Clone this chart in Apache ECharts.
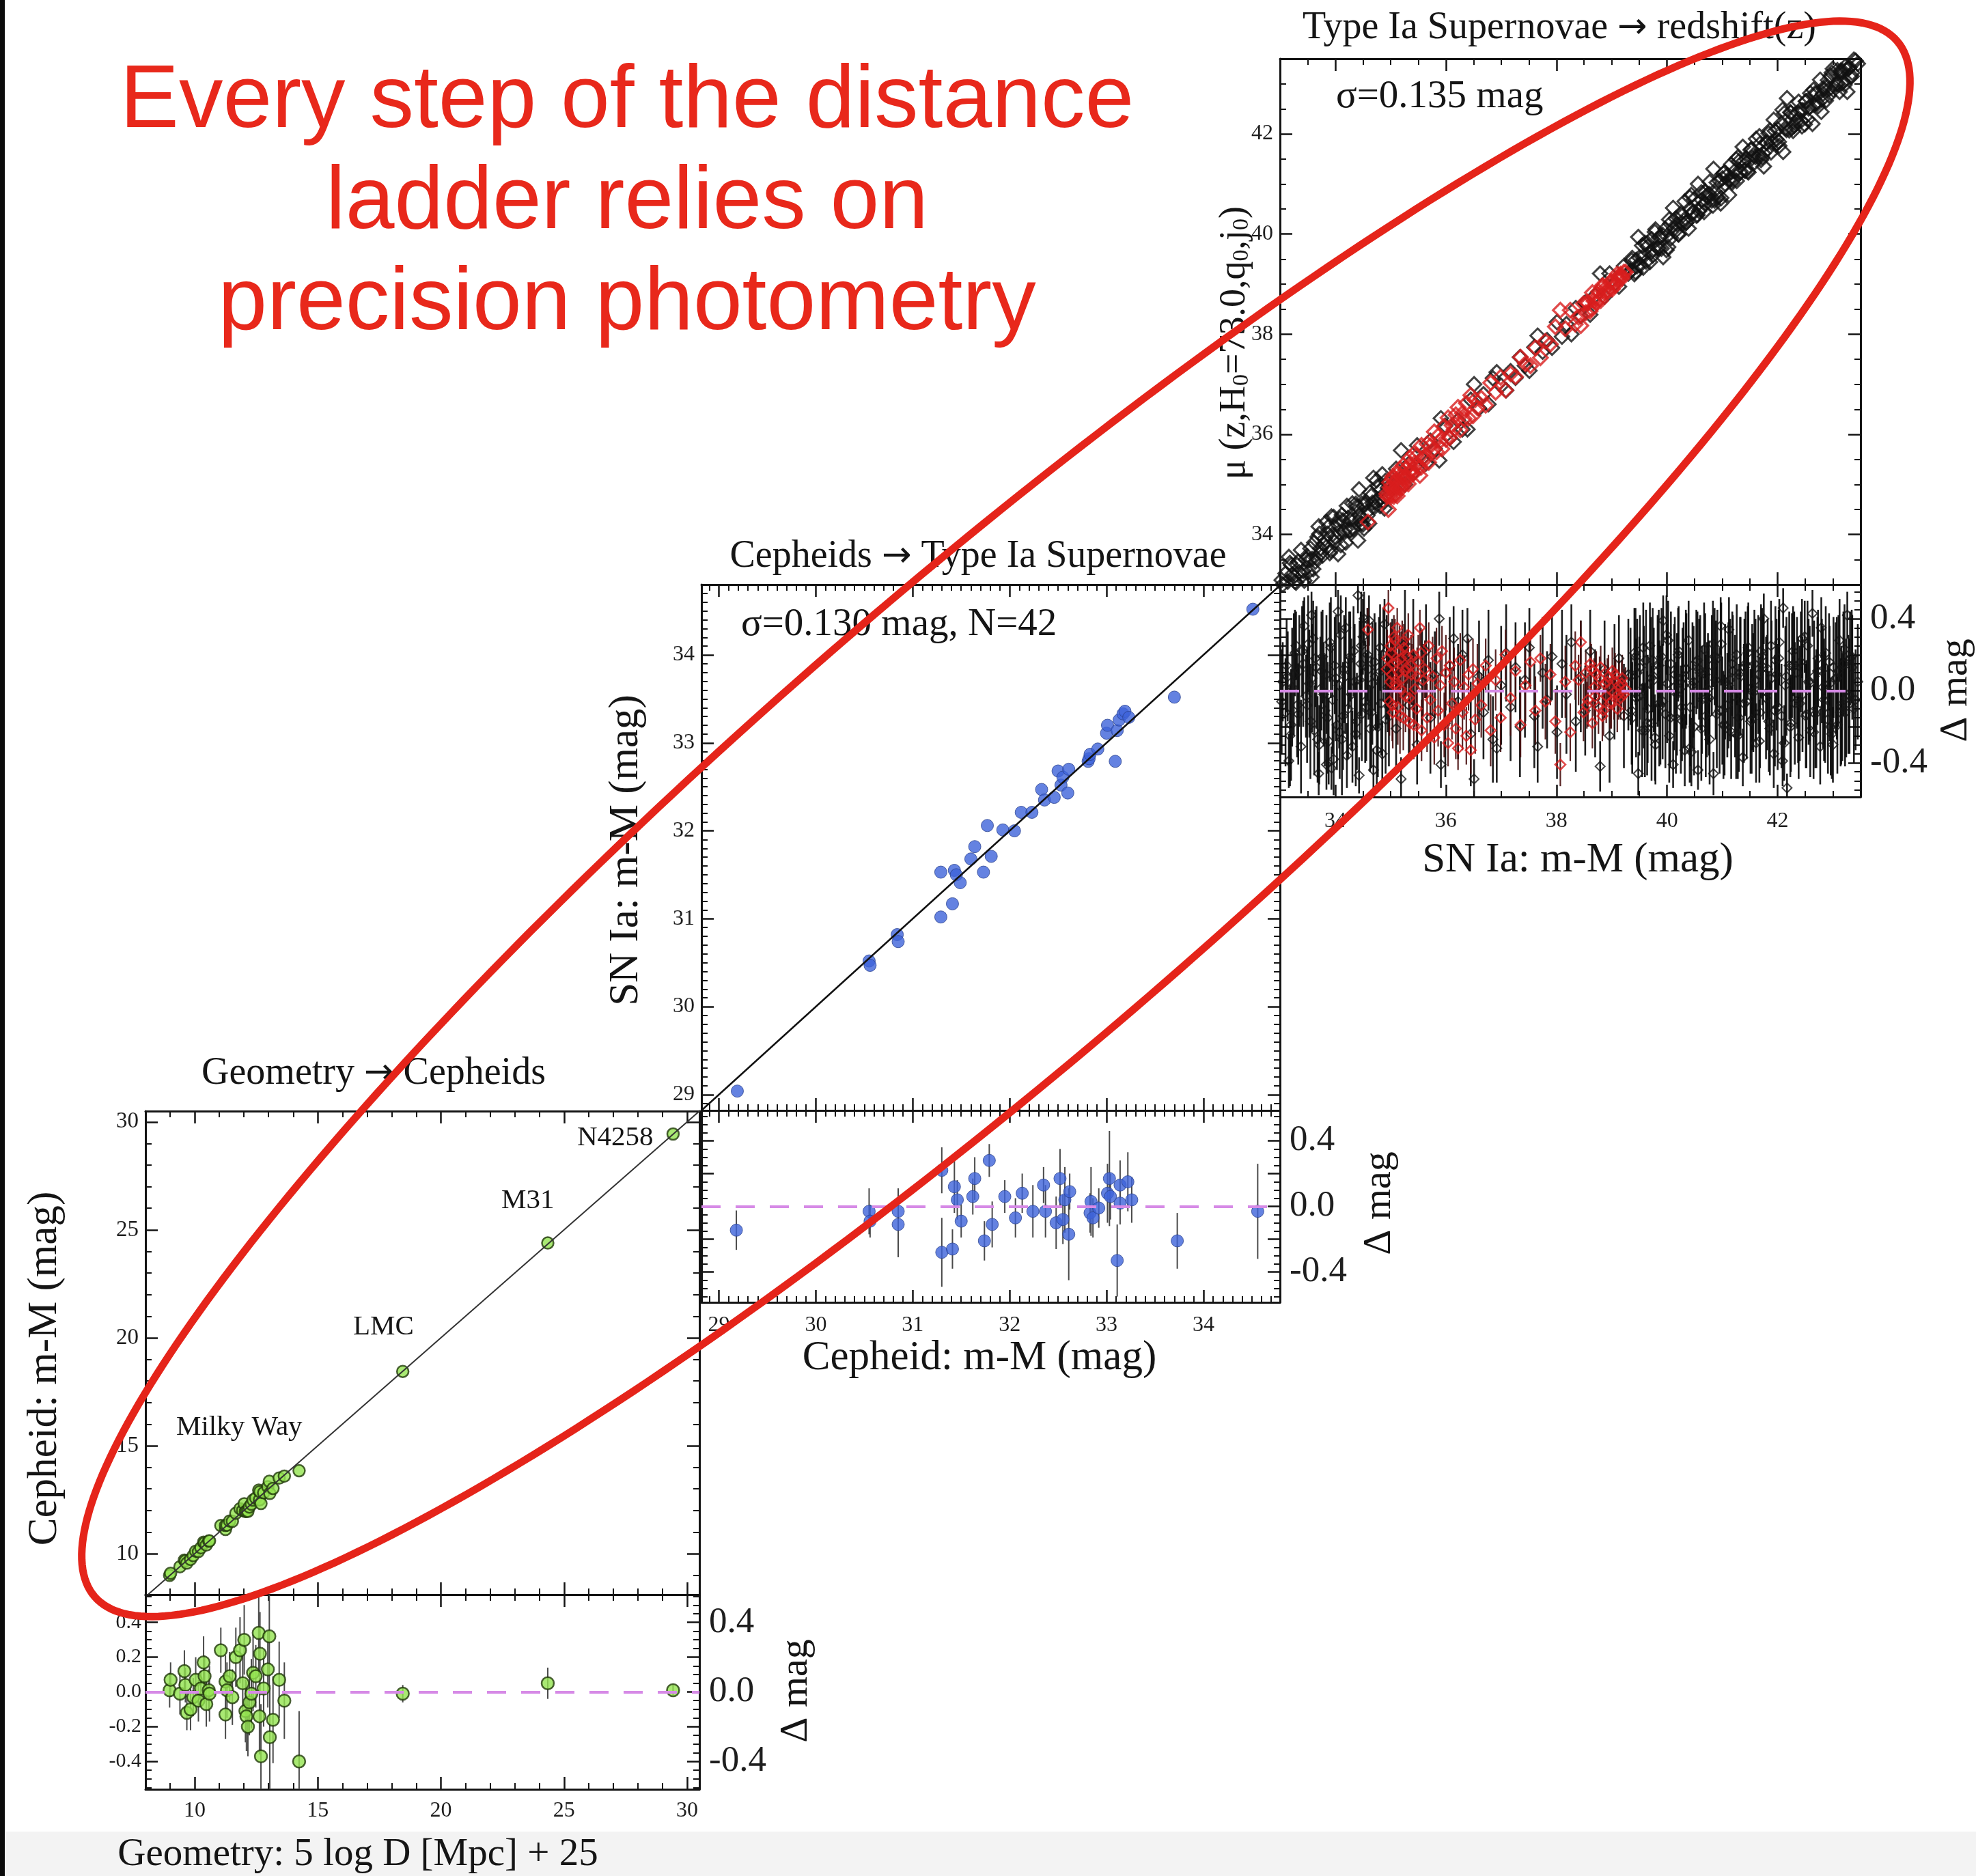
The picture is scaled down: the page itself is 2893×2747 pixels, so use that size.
<!DOCTYPE html>
<html><head><meta charset="utf-8">
<script src="https://cdn.jsdelivr.net/npm/echarts@6/dist/echarts.min.js"></script>
<style>html,body{margin:0;padding:0;background:#fff}#c{width:2893px;height:2747px}</style>
</head><body><div id="c"></div>
<script>
// ================= DATA =================
// Panel 1: Geometry -> Cepheids  main: [geometry 5logD+25, cepheid m-M]
const cephMain = [[8.98,8.99],[9.02,9.09],[9.40,9.39],[9.58,9.70],[9.62,9.66],[9.68,9.56],[9.83,9.73],[9.94,9.91],[10.04,10.11],[10.15,10.10],[10.25,10.27],[10.36,10.53],[10.40,10.49],[10.47,10.40],[10.57,10.58],[10.60,10.59],[11.06,11.30],[11.25,11.12],[11.25,11.31],[11.31,11.32],[11.42,11.51],[11.53,11.50],[11.67,11.87],[11.84,12.08],[11.95,12.00],[12.01,12.31],[12.06,11.95],[12.10,11.96],[12.16,11.96],[12.22,12.16],[12.30,12.29],[12.37,12.48],[12.48,12.57],[12.60,12.94],[12.63,12.49],[12.65,12.87],[12.69,12.32],[12.80,12.82],[12.97,13.10],[13.03,13.35],[13.05,12.79],[13.18,13.02],[13.43,13.50],[13.64,13.59],[14.24,13.84],[18.45,18.44],[24.34,24.39],[29.43,29.44]];
// residual: [geometry, delta mag, error]
const cephRes = [[8.98,0.01,0.10],[9.02,0.07,0.10],[9.40,-0.01,0.12],[9.58,0.12,0.12],[9.62,0.04,0.10],[9.68,-0.12,0.10],[9.83,-0.10,0.12],[9.94,-0.03,0.11],[10.04,0.07,0.13],[10.15,-0.05,0.12],[10.25,0.02,0.10],[10.36,0.17,0.15],[10.40,0.09,0.12],[10.47,-0.07,0.13],[10.57,0.01,0.12],[10.60,-0.01,0.16],[11.06,0.24,0.13],[11.25,-0.13,0.14],[11.25,0.06,0.15],[11.31,0.01,0.16],[11.42,0.09,0.14],[11.53,-0.03,0.16],[11.67,0.20,0.17],[11.84,0.24,0.19],[11.95,0.05,0.17],[12.01,0.30,0.20],[12.06,-0.11,0.18],[12.10,-0.14,0.20],[12.16,-0.20,0.17],[12.22,-0.06,0.19],[12.30,-0.01,0.20],[12.37,0.11,0.22],[12.48,0.09,0.18],[12.60,0.34,0.25],[12.63,-0.14,0.22],[12.65,0.22,0.24],[12.69,-0.37,0.30],[12.80,0.02,0.22],[12.97,0.13,0.22],[13.03,0.32,0.30],[13.05,-0.26,0.30],[13.18,-0.16,0.25],[13.43,0.07,0.22],[13.64,-0.05,0.22],[14.24,-0.40,0.29],[18.45,-0.01,0.05],[24.34,0.05,0.09],[29.43,0.01,0.03]];
const cephFit = [[8,8],[30.5,30.5]];
const cephTicks = [10,15,20,25,30];

// Panel 2: Cepheids -> SN Ia  main: [cepheid m-M, SN Ia m-M]
const snCephMain = [[29.19,29.04],[30.55,30.52],[30.56,30.47],[30.84,30.82],[30.85,30.74],[31.29,31.02],[31.29,31.53],[31.41,31.17],[31.43,31.55],[31.45,31.50],[31.49,31.41],[31.60,31.68],[31.64,31.82],[31.73,31.53],[31.77,32.06],[31.81,31.71],[31.93,32.01],[32.05,32.00],[32.12,32.21],[32.23,32.21],[32.33,32.47],[32.36,32.35],[32.46,32.38],[32.50,32.68],[32.53,32.52],[32.55,32.61],[32.60,32.43],[32.61,32.70],[32.81,32.79],[32.82,32.82],[32.83,32.87],[32.91,32.93],[33.00,33.11],[33.01,33.20],[33.09,32.79],[33.11,33.14],[33.13,33.26],[33.17,33.33],[33.19,33.36],[33.23,33.29],[33.70,33.52],[34.51,34.52]];
const snCephRes = [[29.18,-0.145,0.12],[30.55,-0.03,0.14],[30.56,-0.09,0.10],[30.85,-0.03,0.14],[30.85,-0.11,0.20],[31.30,0.22,0.14],[31.30,-0.28,0.21],[31.41,-0.26,0.12],[31.43,0.12,0.16],[31.46,0.04,0.12],[31.50,-0.09,0.10],[31.62,0.06,0.11],[31.64,0.17,0.13],[31.74,-0.21,0.12],[31.79,0.28,0.10],[31.82,-0.11,0.14],[31.95,0.06,0.10],[32.06,-0.07,0.12],[32.13,0.08,0.12],[32.24,-0.03,0.16],[32.35,0.13,0.11],[32.37,-0.03,0.16],[32.48,-0.10,0.16],[32.52,0.17,0.18],[32.55,-0.08,0.15],[32.57,0.04,0.20],[32.61,-0.17,0.28],[32.62,0.09,0.11],[32.83,-0.04,0.12],[32.84,0.03,0.21],[32.86,-0.07,0.12],[32.92,-0.01,0.12],[33.01,0.08,0.18],[33.03,0.17,0.29],[33.04,0.06,0.14],[33.11,-0.33,0.22],[33.14,0.02,0.13],[33.14,0.13,0.15],[33.22,0.15,0.18],[33.26,0.04,0.14],[33.73,-0.21,0.17],[34.56,-0.03,0.29]];
const snCephFit = [[28.82,28.82],[34.79,34.79]];
const snCephTicks = [29,30,31,32,33,34];

// Panel 3: SN Ia -> redshift. x = SN Ia m-M, mu = mu(z), d = residual, e = error
const hfBlackX = [33.05,33.10,33.14,33.18,33.22,33.27,33.31,33.35,33.38,33.42,33.47,33.51,33.55,33.58,33.62,33.66,33.70,33.73,33.77,33.81,33.84,33.88,33.92,33.95,33.99,34.03,34.07,34.10,34.14,34.18,34.21,34.25,34.29,34.33,34.37,34.41,34.44,34.48,34.52,34.56,34.60,34.63,34.67,34.71,34.75,34.79,34.83,34.87,34.91,34.95,33.84,33.44,34.12,33.60,34.47,34.05,33.97,34.69,33.29,34.89,
35.03,35.10,35.19,35.26,35.33,35.41,35.48,35.57,35.64,35.72,35.80,35.88,35.91,35.99,36.07,36.14,36.22,36.30,36.39,36.45,36.51,36.60,36.68,36.77,36.85,36.92,37.00,37.09,37.17,37.26,37.34,37.43,37.51,37.60,37.66,37.75,37.83,37.92,38.01,38.10,38.18,38.27,38.35,38.44,38.52,38.61,38.70,38.79,38.87,38.96,39.05,39.13,39.22,39.30,
39.34,39.37,39.41,39.44,39.48,39.51,39.55,39.58,39.62,39.65,39.69,39.72,39.76,39.79,39.83,39.86,39.90,39.93,39.97,40.00,40.04,40.07,40.11,40.14,40.18,40.21,40.25,40.28,40.32,40.35,40.39,40.42,40.46,40.49,40.53,40.56,40.60,40.63,40.67,40.70,40.74,40.77,40.81,40.84,40.88,40.91,40.95,40.98,41.02,41.05,41.09,41.12,41.16,41.19,41.23,41.26,41.30,41.33,41.37,41.40,41.44,41.47,41.51,41.54,41.58,41.61,41.65,41.68,41.72,41.75,41.79,41.82,41.86,41.89,41.93,41.96,42.00,42.03,42.07,42.10,42.14,42.17,42.21,42.24,42.28,42.31,42.35,42.38,42.42,42.45,42.49,42.52,42.56,42.59,42.63,42.66,42.70,42.73,42.77,42.80,42.84,42.87,42.91,42.94,42.98,43.01,43.05,43.08,43.12,43.15,43.19,43.22,43.26,43.30,43.34,43.38,
33.03,33.12,33.20,33.25,33.33,33.40,33.49,33.53,33.64,33.68,33.75,33.79,33.86,33.90,34.01,34.08,34.16,34.23,34.27,34.31,34.35,34.39,34.46,34.50,34.54,34.58,34.65,34.73,34.77,34.81,34.85,34.93,34.97,33.16,33.57,33.93,34.19,34.61,34.43,33.71,
39.36,39.43,39.50,39.57,39.64,39.71,39.78,39.85,39.92,39.99,40.06,40.13,40.20,40.27,40.34,40.41,40.48,40.55,40.62,40.69,40.76,40.83,40.90,40.97,41.04,41.11,41.18,41.25,41.32,41.39,41.46,41.53,41.60,41.67,41.74,41.81,41.88,41.95,42.02,42.09,42.16,42.23,42.30,42.37,42.44,42.51,42.58,42.65,42.72,42.79,42.86,42.93,43.00,43.07,43.14,43.21,43.28,43.35,43.41,43.45,39.46,39.60,39.74,39.88,40.02,40.16,40.30,40.44,40.58,40.72,40.86,41.00,41.14,41.28,41.42,41.56,41.70,41.84,41.98,42.12,42.26,42.40,42.54,42.68,42.82,42.96,43.10,43.24,43.31,43.17];
const hfBlackMu = [33.00,33.22,33.06,33.43,33.20,33.06,33.39,33.24,33.69,33.27,33.50,33.25,33.72,33.51,33.84,33.53,34.16,33.72,33.58,33.92,33.75,34.16,33.68,34.00,33.85,34.22,34.04,33.79,34.28,34.10,34.57,34.08,34.31,34.11,34.61,33.88,34.38,34.61,34.12,34.65,34.48,34.84,34.63,34.55,35.08,34.69,34.90,34.67,35.07,34.93,34.25,33.08,34.39,33.31,34.22,33.61,34.35,35.13,33.04,34.52,
34.91,35.31,35.68,35.00,35.41,35.23,35.78,35.52,35.42,35.87,35.71,35.48,36.32,36.17,35.93,35.85,36.28,36.10,36.10,36.69,37.00,36.52,36.80,36.60,37.12,37.24,36.97,36.88,37.26,37.13,37.54,37.37,37.27,37.74,37.97,37.65,37.88,37.73,38.24,37.95,38.20,38.00,38.52,38.36,38.63,38.39,38.77,39.21,38.75,39.21,39.00,38.95,39.36,39.21,
39.26,39.52,39.20,39.48,39.94,39.38,39.77,39.56,39.45,39.75,39.44,39.90,39.70,40.09,39.72,39.93,39.71,39.54,40.10,39.96,40.29,39.92,40.52,40.05,40.20,39.99,40.41,40.21,40.65,40.23,40.11,40.51,40.43,40.69,40.37,41.00,40.50,40.68,40.44,40.84,40.73,41.04,40.67,41.30,40.82,40.73,41.06,40.72,41.21,41.00,41.17,40.78,41.39,41.08,41.26,41.06,41.45,41.25,41.74,41.27,41.50,41.23,41.68,41.52,41.43,41.90,41.56,41.80,41.53,41.35,41.83,41.70,42.07,41.82,42.28,41.79,42.09,41.76,42.21,41.64,42.11,42.71,42.07,42.42,42.06,42.38,42.25,42.64,42.26,42.47,42.19,42.65,42.51,42.81,42.20,42.58,42.80,42.55,43.08,42.69,42.89,42.66,43.07,42.90,43.22,42.88,42.98,43.27,42.84,43.23,43.04,43.34,42.84,43.33,43.15,43.48,
33.09,32.98,33.39,33.16,33.46,33.18,33.57,33.49,33.46,33.95,33.64,33.81,34.01,33.63,33.94,34.31,34.04,34.33,34.08,34.62,34.30,34.56,34.31,34.20,34.60,34.38,34.77,34.65,34.97,34.57,35.20,34.80,35.06,33.55,33.15,34.36,33.84,34.22,34.90,34.01,
39.47,39.24,39.53,39.33,39.82,39.64,40.04,39.71,39.98,39.68,40.21,40.11,40.00,40.36,40.22,40.73,40.43,40.38,40.83,40.60,40.80,40.57,41.03,40.61,41.23,41.08,41.03,41.49,41.22,41.46,41.25,41.69,41.54,41.95,41.61,41.82,41.63,42.06,41.84,42.48,42.08,42.43,42.16,42.42,42.15,42.65,42.54,42.88,42.61,42.44,42.95,42.77,43.30,43.00,43.26,42.98,43.30,43.22,43.46,43.40,39.36,39.82,39.57,39.96,39.74,40.31,40.27,40.78,40.46,40.77,40.67,41.11,41.08,41.53,41.27,41.57,41.48,42.01,41.89,42.41,42.12,42.47,42.29,42.81,42.80,43.16,42.99,43.28,43.13,43.26];
const hfBlackD = [0.05,-0.12,0.08,-0.25,0.02,0.21,-0.08,0.11,-0.31,0.15,-0.03,0.26,-0.17,0.07,-0.22,0.13,-0.46,0.01,0.19,-0.11,0.09,-0.28,0.24,-0.05,0.14,-0.19,0.03,0.31,-0.14,0.08,-0.36,0.17,-0.02,0.22,-0.24,0.53,0.06,-0.13,0.40,-0.09,0.12,-0.21,0.04,0.16,-0.33,0.10,-0.07,0.20,-0.16,0.02,-0.41,0.36,-0.27,0.29,0.25,0.44,-0.38,-0.44,0.25,0.37,
0.12,-0.21,-0.49,0.26,-0.08,0.18,-0.30,0.05,0.22,-0.15,0.09,0.40,-0.41,-0.18,0.14,0.29,-0.06,0.20,0.29,-0.24,-0.49,0.08,-0.12,0.17,-0.27,-0.32,0.03,0.21,-0.09,0.13,-0.20,0.06,0.24,-0.14,-0.31,0.10,-0.05,0.19,-0.23,0.15,-0.02,0.27,-0.17,0.08,-0.11,0.22,-0.07,-0.42,0.12,-0.25,0.05,0.18,-0.14,0.09,
0.08,-0.15,0.21,-0.04,-0.46,0.13,-0.22,0.02,0.17,-0.10,0.25,-0.18,0.06,-0.30,0.11,-0.07,0.19,0.39,-0.13,0.04,-0.25,0.15,-0.41,0.09,-0.02,0.22,-0.16,0.07,-0.33,0.12,0.28,-0.09,0.03,-0.20,0.16,-0.44,0.10,-0.05,0.23,-0.14,0.01,-0.27,0.14,-0.46,0.06,0.18,-0.11,0.26,-0.19,0.05,-0.08,0.34,-0.23,0.11,-0.03,0.20,-0.15,0.08,-0.37,0.13,-0.06,0.24,-0.17,0.02,0.15,-0.29,0.09,-0.12,0.19,0.40,-0.04,0.12,-0.21,0.07,-0.35,0.17,-0.09,0.27,-0.14,0.46,0.03,-0.54,0.14,-0.18,0.22,-0.07,0.10,-0.26,0.16,-0.02,0.30,-0.13,0.05,-0.22,0.43,0.08,-0.10,0.18,-0.31,0.11,-0.05,0.21,-0.16,0.04,-0.24,0.13,0.07,-0.19,0.28,-0.08,0.15,-0.12,0.42,-0.03,0.19,-0.10,
-0.06,0.14,-0.19,0.09,-0.13,0.22,-0.08,0.04,0.18,-0.27,0.11,-0.02,-0.15,0.27,0.07,-0.23,0.12,-0.10,0.19,-0.31,0.05,-0.17,0.15,0.30,-0.06,0.20,-0.12,0.08,-0.20,0.24,-0.35,0.13,-0.09,-0.39,0.42,-0.43,0.35,0.39,-0.47,-0.30,
-0.11,0.19,-0.03,0.24,-0.18,0.07,-0.26,0.14,-0.06,0.31,-0.15,0.02,0.20,-0.09,0.12,-0.32,0.05,0.17,-0.21,0.09,-0.04,0.26,-0.13,0.36,-0.19,0.03,0.15,-0.24,0.10,-0.07,0.21,-0.16,0.06,-0.28,0.13,-0.01,0.25,-0.11,0.18,-0.39,0.08,-0.20,0.14,-0.05,0.29,-0.14,0.04,-0.23,0.11,0.35,-0.09,0.16,-0.30,0.07,-0.12,0.23,-0.02,0.13,-0.05,0.05,0.10,-0.22,0.17,-0.08,0.28,-0.15,0.03,-0.34,0.12,-0.05,0.19,-0.11,0.06,-0.25,0.15,-0.01,0.22,-0.17,0.09,-0.29,0.14,-0.07,0.25,-0.13,0.02,-0.20,0.11,-0.04,0.18,-0.09];
const hfBlackE = [0.22,0.30,0.25,0.28,0.33,0.24,0.29,0.31,0.26,0.35,0.23,0.27,0.32,0.30,0.25,0.34,0.12,0.29,0.26,0.31,0.33,0.24,0.28,0.30,0.27,0.25,0.35,0.22,0.30,0.32,0.18,0.27,0.31,0.25,0.29,0.10,0.33,0.26,0.15,0.30,0.28,0.24,0.34,0.27,0.20,0.31,0.29,0.26,0.30,0.25,0.14,0.16,0.31,0.21,0.30,0.12,0.20,0.12,0.19,0.14,
0.28,0.25,0.12,0.30,0.27,0.33,0.22,0.29,0.26,0.31,0.24,0.15,0.13,0.30,0.27,0.18,0.32,0.25,0.17,0.29,0.11,0.31,0.26,0.28,0.24,0.19,0.33,0.27,0.30,0.25,0.28,0.32,0.22,0.29,0.20,0.31,0.27,0.24,0.26,0.30,0.33,0.21,0.28,0.31,0.25,0.23,0.30,0.14,0.27,0.26,0.32,0.24,0.29,0.31,
0.27,0.31,0.25,0.33,0.12,0.29,0.26,0.34,0.28,0.30,0.24,0.32,0.29,0.22,0.31,0.35,0.27,0.14,0.30,0.33,0.26,0.29,0.13,0.32,0.34,0.25,0.30,0.28,0.20,0.31,0.22,0.33,0.35,0.27,0.29,0.11,0.32,0.30,0.26,0.34,0.31,0.25,0.28,0.12,0.33,0.27,0.35,0.23,0.30,0.32,0.29,0.18,0.26,0.31,0.34,0.28,0.30,0.33,0.16,0.27,0.32,0.25,0.29,0.35,0.30,0.22,0.33,0.31,0.27,0.14,0.34,0.28,0.26,0.32,0.19,0.30,0.35,0.24,0.29,0.11,0.33,0.08,0.30,0.27,0.25,0.34,0.31,0.23,0.28,0.32,0.20,0.30,0.35,0.26,0.13,0.31,0.33,0.27,0.21,0.29,0.34,0.26,0.30,0.32,0.25,0.28,0.31,0.27,0.23,0.33,0.29,0.30,0.13,0.32,0.26,0.30,
0.29,0.26,0.31,0.34,0.28,0.25,0.32,0.30,0.27,0.24,0.33,0.29,0.31,0.22,0.35,0.26,0.30,0.28,0.25,0.20,0.32,0.27,0.29,0.21,0.34,0.26,0.31,0.30,0.28,0.24,0.18,0.29,0.33,0.15,0.13,0.12,0.17,0.14,0.10,0.22,
0.30,0.27,0.33,0.25,0.29,0.34,0.24,0.31,0.32,0.22,0.28,0.35,0.26,0.30,0.33,0.19,0.31,0.27,0.29,0.34,0.32,0.24,0.30,0.16,0.28,0.35,0.29,0.25,0.31,0.33,0.26,0.30,0.34,0.23,0.29,0.32,0.25,0.31,0.27,0.14,0.33,0.28,0.30,0.35,0.22,0.29,0.32,0.26,0.30,0.17,0.31,0.27,0.21,0.34,0.30,0.25,0.33,0.29,0.28,0.32,0.30,0.26,0.29,0.33,0.22,0.31,0.35,0.19,0.28,0.32,0.27,0.30,0.34,0.24,0.29,0.33,0.26,0.28,0.31,0.21,0.29,0.32,0.25,0.30,0.34,0.27,0.31,0.33,0.26,0.30];
const hfRedX = [34.59,34.93,34.96,34.99,35.01,35.03,35.05,35.08,35.10,35.12,35.15,35.17,35.19,35.22,35.24,35.27,35.29,35.32,35.35,35.38,35.41,35.44,35.47,35.50,35.53,35.56,35.59,35.62,35.66,35.69,35.72,35.76,35.79,35.83,35.86,35.90,35.93,35.97,36.00,36.04,36.07,36.11,36.15,36.18,36.22,36.26,36.30,36.33,36.37,36.41,36.45,36.49,36.53,36.57,
36.64,36.72,36.81,36.90,36.99,37.08,37.17,37.26,37.35,37.44,37.53,37.62,37.71,37.80,37.89,37.98,38.07,38.16,38.25,38.34,
38.40,38.44,38.49,38.53,38.57,38.61,38.65,38.68,38.72,38.76,38.80,38.83,38.87,38.90,38.94,38.97,39.01,39.04,39.07,39.10,39.13,39.16,39.19,39.22,39.25,
34.94,34.98,35.00,35.02,35.04,35.06,35.09,35.11,35.13,35.16,35.18,35.21,35.23,35.26,35.30,35.34,35.37,35.42,35.48,35.55,38.55,38.63,38.70,38.78,38.85,38.92,38.99,39.06,39.12,39.18];
const hfRedMu = [34.25,34.81,34.50,34.94,34.80,35.11,34.90,34.80,35.08,34.77,35.05,35.31,35.01,35.15,35.00,35.30,35.16,35.01,35.53,35.29,35.21,35.43,35.57,35.34,35.18,35.78,35.53,35.50,35.81,35.44,35.77,35.68,36.05,35.65,35.97,35.87,35.71,36.16,35.90,36.33,35.93,36.18,36.10,36.39,36.54,36.09,36.42,36.31,36.62,36.32,36.78,36.37,36.69,36.53,
36.72,36.58,37.03,36.84,37.14,36.88,37.21,37.15,37.54,37.41,37.37,37.73,37.53,37.86,37.80,38.15,38.48,38.11,38.48,38.20,
38.34,38.17,38.61,38.43,38.62,38.46,38.83,38.66,38.63,38.85,38.67,38.97,38.83,38.93,38.86,39.04,38.90,39.05,39.02,39.20,39.10,39.20,39.12,39.24,39.24,
34.76,35.04,34.75,34.93,35.16,34.76,35.05,34.95,35.22,34.94,35.17,34.94,35.38,35.15,35.11,35.38,35.23,35.61,35.40,35.34,38.63,38.51,38.73,38.71,38.96,38.87,39.05,38.97,39.14,39.14];
const hfRedD = [0.34,0.12,0.46,0.05,0.21,-0.08,0.15,0.28,0.02,0.35,0.10,-0.14,0.18,0.07,0.24,-0.03,0.13,0.31,-0.18,0.09,0.20,0.01,-0.10,0.16,0.35,-0.22,0.06,0.12,-0.15,0.25,-0.05,0.08,-0.26,0.18,-0.11,0.03,0.22,-0.19,0.10,-0.29,0.14,-0.07,0.05,-0.21,-0.32,0.17,-0.12,0.02,-0.25,0.09,-0.33,0.12,-0.16,0.04,
-0.08,0.14,-0.22,0.06,-0.15,0.20,-0.04,0.11,-0.19,0.03,0.16,-0.11,0.18,-0.06,0.09,-0.17,-0.41,0.05,-0.23,0.14,
0.06,0.27,-0.12,0.10,-0.05,0.15,-0.18,0.02,0.09,-0.09,0.13,-0.14,0.04,-0.03,0.08,-0.07,0.11,-0.01,0.05,-0.10,0.03,-0.04,0.07,-0.02,0.01,
0.18,-0.06,0.25,0.09,-0.12,0.30,0.04,0.16,-0.09,0.22,0.01,0.27,-0.15,0.11,0.19,-0.04,0.14,-0.19,0.08,0.21,-0.08,0.12,-0.03,0.07,-0.11,0.05,-0.06,0.09,-0.02,0.04];
const hfRedE = [0.12,0.15,0.10,0.18,0.14,0.20,0.16,0.12,0.19,0.11,0.17,0.21,0.15,0.18,0.13,0.20,0.16,0.12,0.19,0.17,0.14,0.21,0.18,0.15,0.10,0.17,0.20,0.16,0.19,0.13,0.18,0.22,0.15,0.17,0.20,0.19,0.14,0.18,0.21,0.13,0.16,0.20,0.19,0.17,0.12,0.15,0.21,0.18,0.16,0.20,0.13,0.17,0.19,0.22,
0.18,0.15,0.20,0.17,0.19,0.14,0.21,0.16,0.18,0.20,0.15,0.19,0.13,0.21,0.17,0.18,0.12,0.20,0.16,0.19,
0.14,0.12,0.16,0.13,0.15,0.12,0.14,0.16,0.13,0.15,0.12,0.14,0.13,0.15,0.12,0.14,0.13,0.15,0.12,0.13,0.14,0.12,0.13,0.14,0.12,
0.16,0.19,0.13,0.18,0.20,0.12,0.17,0.15,0.21,0.14,0.19,0.12,0.18,0.16,0.15,0.20,0.17,0.19,0.16,0.14,0.13,0.14,0.15,0.12,0.14,0.13,0.15,0.12,0.14,0.13];
const hfTicks = [34,36,38,40,42];
const resFineTicks = [-0.4,-0.2,0,0.2,0.4];
const resBigTicks = [-0.4,0,0.4];

// ================= CHART =================
const SERIF = '"Liberation Serif","Times New Roman",serif';
const ARROWF = '"DejaVu Sans",sans-serif';
const AX = '#141414';
const chart = echarts.init(document.getElementById('c'), null, {renderer:'canvas'});

function ticksBetween(lo, hi, step, majorStep) {
  const out = [];
  const n0 = Math.ceil(lo / step - 1e-9), n1 = Math.floor(hi / step + 1e-9);
  for (let n = n0; n <= n1; n++) {
    const v = +(n * step).toFixed(4);
    const q = v / majorStep;
    if (Math.abs(q - Math.round(q)) > 1e-6) out.push(v);
  }
  return out;
}
function mkAxis(g, range, pos, ticks, major, label) {
  const o = {
    type:'value', gridIndex:g, position:pos, min:range[0], max:range[1],
    axisLine:{show:major, onZero:false, lineStyle:{color:AX, width:3}},
    axisTick:{show:true, inside:true, length: major ? 18 : 9, customValues:ticks, lineStyle:{color:AX, width: major ? 2.5 : 2}},
    axisLabel:{show:false},
    splitLine:{show:false}, minorTick:{show:false}, minorSplitLine:{show:false}
  };
  if (label) o.axisLabel = {show:true, customValues:label.values, fontSize:label.size, fontFamily:SERIF, color:'#1e1e1e', margin:label.margin, formatter: label.fmt || (v => String(v))};
  return o;
}
const xAxes = [], yAxes = [];
function addAxes(g, xr, yr, xMaj, xMin, yMaj, yMin, lab) {
  const xi = xAxes.length, yi = yAxes.length;
  xAxes.push(mkAxis(g, xr, 'bottom', xMaj, true, lab.bottom));
  xAxes.push(mkAxis(g, xr, 'bottom', xMin, false));
  xAxes.push(mkAxis(g, xr, 'top', xMaj, true));
  xAxes.push(mkAxis(g, xr, 'top', xMin, false));
  yAxes.push(mkAxis(g, yr, 'left', yMaj, true, lab.left));
  yAxes.push(mkAxis(g, yr, 'left', yMin, false));
  yAxes.push(mkAxis(g, yr, 'right', yMaj, true, lab.right));
  yAxes.push(mkAxis(g, yr, 'right', yMin, false));
  return {xi, yi};
}
const f1 = v => v.toFixed(1);

const grids = [
  {left:213, top:1627, width:811, height:708},
  {left:213, top:2335, width:811, height:285},
  {left:1027, top:856, width:847, height:770},
  {left:1027, top:1626, width:847, height:281},
  {left:1874, top:86, width:850, height:770},
  {left:1874, top:856, width:850, height:311}
];
const p1x = [8, 30.5], p1y = [8.1, 30.5], p1r = [-0.56, 0.56];
const p2x = [28.82, 34.79], p2y = [28.82, 34.8], p2r = [-0.585, 0.585];
const p3x = [33, 43.5], p3y = [33, 43.5], p3r = [-0.59, 0.59];

const A0 = addAxes(0, p1x, p1y, cephTicks, ticksBetween(8,30.5,1,5), cephTicks, ticksBetween(8.1,30.5,1,5),
  {left:{values:cephTicks, size:33, margin:10}});
const A1 = addAxes(1, p1x, p1r, cephTicks, ticksBetween(8,30.5,1,5), resFineTicks, ticksBetween(-0.56,0.56,0.05,0.2),
  {bottom:{values:cephTicks, size:32, margin:16}, left:{values:resFineTicks, size:30, margin:6, fmt:f1}, right:{values:resBigTicks, size:53, margin:14, fmt:f1}});
const A2 = addAxes(2, p2x, p2y, snCephTicks, ticksBetween(28.82,34.79,0.1,1), snCephTicks, ticksBetween(28.82,34.8,0.1,1),
  {left:{values:snCephTicks, size:32, margin:10}});
const A3 = addAxes(3, p2x, p2r, snCephTicks, ticksBetween(28.82,34.79,0.1,1), resFineTicks, ticksBetween(-0.585,0.585,0.05,0.2),
  {bottom:{values:snCephTicks, size:32, margin:18}, right:{values:resBigTicks, size:53, margin:14, fmt:f1}});
const A4 = addAxes(4, p3x, p3y, hfTicks, ticksBetween(33,43.5,0.5,2), hfTicks, ticksBetween(33,43.5,0.5,2),
  {left:{values:hfTicks, size:32, margin:10}});
const A5 = addAxes(5, p3x, p3r, hfTicks, ticksBetween(33,43.5,0.5,2), resFineTicks, ticksBetween(-0.59,0.59,0.05,0.2),
  {bottom:{values:hfTicks, size:32, margin:20}, right:{values:resBigTicks, size:53, margin:14, fmt:f1}});

function errSeries(A, data, color, width, extra) {
  return Object.assign({
    type:'custom', xAxisIndex:A.xi, yAxisIndex:A.yi, data:data, clip:true, silent:true,
    renderItem: function (params, api) {
      const a = api.coord([api.value(0), api.value(1)]);
      const b = api.coord([api.value(0), api.value(2)]);
      return {type:'line', shape:{x1:a[0], y1:a[1], x2:b[0], y2:b[1]}, style:{stroke:color, lineWidth:width}};
    }
  }, extra || {});
}
const zeroLine = {silent:true, symbol:['none','none'], label:{show:false}, animation:false,
  lineStyle:{color:'#d68ae6', width:4, type:[28,22], opacity:1}, emphasis:{disabled:true}, data:[{yAxis:0}]};

const toBar = r => [r[0], r[1] - r[2], r[1] + r[2]];
const hfBlackMain = hfBlackX.map((x, i) => [x, hfBlackMu[i]]);
const hfRedMain = hfRedX.map((x, i) => [x, hfRedMu[i]]);
const hfBlackRes = hfBlackX.map((x, i) => [x, hfBlackD[i]]);
const hfRedRes = hfRedX.map((x, i) => [x, hfRedD[i]]);
const hfBlackBars = hfBlackX.map((x, i) => [x, hfBlackD[i] - hfBlackE[i], hfBlackD[i] + hfBlackE[i]]);
const hfRedBars = hfRedX.map((x, i) => [x, hfRedD[i] - hfRedE[i], hfRedD[i] + hfRedE[i]]);

const green = {color:'#93e350', borderColor:'#203a0a', borderWidth:2.5};
const blue = {color:'#3d63d9', borderColor:'#2b428f', borderWidth:1};
const hollowBlack = {color:'rgba(0,0,0,0)', borderColor:'#111', borderWidth:3};
const hollowRed = {color:'rgba(0,0,0,0)', borderColor:'#d81e1e', borderWidth:3.4};
const hollowBlackS = {color:'rgba(0,0,0,0)', borderColor:'#151515', borderWidth:2};
const hollowRedS = {color:'rgba(0,0,0,0)', borderColor:'#d81e1e', borderWidth:2.6};

const series = [
  // panel 1
  {type:'line', xAxisIndex:A0.xi, yAxisIndex:A0.yi, data:cephFit, showSymbol:false, clip:true, silent:true, lineStyle:{color:'#333', width:2}},
  {type:'scatter', xAxisIndex:A0.xi, yAxisIndex:A0.yi, data:cephMain, symbol:'circle', symbolSize:17, itemStyle:green, silent:true},
  errSeries(A1, cephRes.map(toBar), '#4a4a4a', 2, {markLine:zeroLine}),
  {type:'scatter', xAxisIndex:A1.xi, yAxisIndex:A1.yi, data:cephRes.map(r => [r[0], r[1]]), symbol:'circle', symbolSize:18, itemStyle:green, silent:true},
  // panel 2
  {type:'line', xAxisIndex:A2.xi, yAxisIndex:A2.yi, data:snCephFit, showSymbol:false, clip:true, silent:true, lineStyle:{color:'#111', width:2.5}},
  {type:'scatter', xAxisIndex:A2.xi, yAxisIndex:A2.yi, data:snCephMain, symbol:'circle', symbolSize:18, itemStyle:blue, silent:true},
  errSeries(A3, snCephRes.map(toBar), '#4a4a4a', 2, {markLine:zeroLine}),
  {type:'scatter', xAxisIndex:A3.xi, yAxisIndex:A3.yi, data:snCephRes.map(r => [r[0], r[1]]), symbol:'circle', symbolSize:18, itemStyle:blue, silent:true},
  // panel 3 main
  {type:'scatter', xAxisIndex:A4.xi, yAxisIndex:A4.yi, data:hfBlackMain, symbol:'diamond', symbolSize:21, itemStyle:hollowBlack, silent:true},
  {type:'scatter', xAxisIndex:A4.xi, yAxisIndex:A4.yi, data:hfRedMain, symbol:'diamond', symbolSize:21, itemStyle:hollowRed, silent:true},
  // panel 3 residual
  errSeries(A5, hfBlackBars, 'rgba(10,10,10,0.92)', 2.6),
  {type:'scatter', xAxisIndex:A5.xi, yAxisIndex:A5.yi, data:hfBlackRes, symbol:'diamond', symbolSize:14, itemStyle:hollowBlackS, silent:true},
  errSeries(A5, hfRedBars, 'rgba(70,12,12,0.9)', 2.2),
  {type:'scatter', xAxisIndex:A5.xi, yAxisIndex:A5.yi, data:hfRedRes, symbol:'diamond', symbolSize:15, itemStyle:hollowRedS, silent:true, markLine:zeroLine}
];

// decorations
function txt(text, x, y, size, o) {
  o = o || {};
  return {type:'text', x:x, y:y, z:50, rotation:o.rot || 0, silent:true,
    style:{text:text, font:size + 'px ' + (o.font || SERIF), fill:o.fill || '#151515',
      textAlign:o.align || 'center', textVerticalAlign:'middle'}};
}
function arrowTitle(a, b, x, y) {
  return {type:'text', x:x, y:y, z:50, silent:true,
    style:{text:'{t|' + a + ' }{r|\u2192}{t| ' + b + '}', textAlign:'center', textVerticalAlign:'middle',
      rich:{t:{font:'56px ' + SERIF, fill:'#151515'}, r:{font:'52px ' + ARROWF, fill:'#151515'}}}};
}
const ellipsePts = [];
(function () {
  const cx = 1458, cy = 1199, a = 1743, b = 343, phi = 40.8 * Math.PI / 180;
  for (let i = 0; i < 360; i++) {
    const t = i * Math.PI / 180;
    ellipsePts.push([cx + a * Math.cos(t) * Math.cos(phi) + b * Math.sin(t) * Math.sin(phi),
                     cy - a * Math.cos(t) * Math.sin(phi) + b * Math.sin(t) * Math.cos(phi)]);
  }
})();
const RED = '#e8281b';
const SANS = '"Liberation Sans",Arial,Helvetica,sans-serif';
const graphic = [
  {type:'rect', z:0, silent:true, shape:{x:7, y:2682, width:2886, height:65}, style:{fill:'#f3f3f3'}},
  {type:'rect', z:60, silent:true, shape:{x:0, y:0, width:7, height:2747}, style:{fill:'#0b0b0b'}},
  txt('Every step of the distance', 918, 150, 129, {font:SANS, fill:RED}),
  txt('ladder relies on', 918, 298, 129, {font:SANS, fill:RED}),
  txt('precision photometry', 918, 446, 129, {font:SANS, fill:RED}),
  arrowTitle('Geometry', 'Cepheids', 547, 1572),
  arrowTitle('Cepheids', 'Type Ia Supernovae', 1432, 815),
  arrowTitle('Type Ia Supernovae', 'redshift(z)', 2283, 41),
  txt('\u03c3=0.130 mag, N=42', 1085, 915, 57, {align:'left'}),
  txt('\u03c3=0.135 mag', 1956, 142, 57, {align:'left'}),
  txt('N4258', 845, 1666, 41, {align:'left'}),
  txt('M31', 734, 1758, 41, {align:'left'}),
  txt('LMC', 517, 1943, 41, {align:'left'}),
  txt('Milky Way', 258, 2090, 41, {align:'left'}),
  txt('Cepheid: m-M (mag)', 66, 2004, 61, {rot:Math.PI/2}),
  txt('SN Ia: m-M (mag)', 917, 1245, 61, {rot:Math.PI/2}),
  txt('\u0394 mag', 1166, 2476, 58, {rot:Math.PI/2}),
  txt('\u0394 mag', 2020, 1762, 58, {rot:Math.PI/2}),
  txt('\u0394 mag', 2864, 1011, 58, {rot:Math.PI/2}),
  txt('Geometry: 5 log D [Mpc] + 25', 524, 2716, 57),
  txt('Cepheid: m-M (mag)', 1434, 1989, 61),
  txt('SN Ia: m-M (mag)', 2310, 1260, 61),
  {type:'text', x:1808, y:502, z:50, rotation:Math.PI/2, silent:true,
    style:{text:'{a|\u03bc (z,H}{b|0}{a|=73.0,q}{b|0}{a|,j}{b|0}{a|)}', textAlign:'center', textVerticalAlign:'middle',
      rich:{a:{font:'54px ' + SERIF, fill:'#151515'}, b:{font:'34px ' + SERIF, fill:'#151515', verticalAlign:'bottom'}}}},
  {type:'polygon', z:100, silent:true, shape:{points:ellipsePts}, style:{fill:'none', stroke:'#e5241a', lineWidth:11}}
];

chart.setOption({
  animation:false,
  backgroundColor:'#ffffff',
  grid:grids.map(g => Object.assign({show:false, containLabel:false}, g)),
  xAxis:xAxes, yAxis:yAxes, series:series, graphic:graphic
});
</script></body></html>
